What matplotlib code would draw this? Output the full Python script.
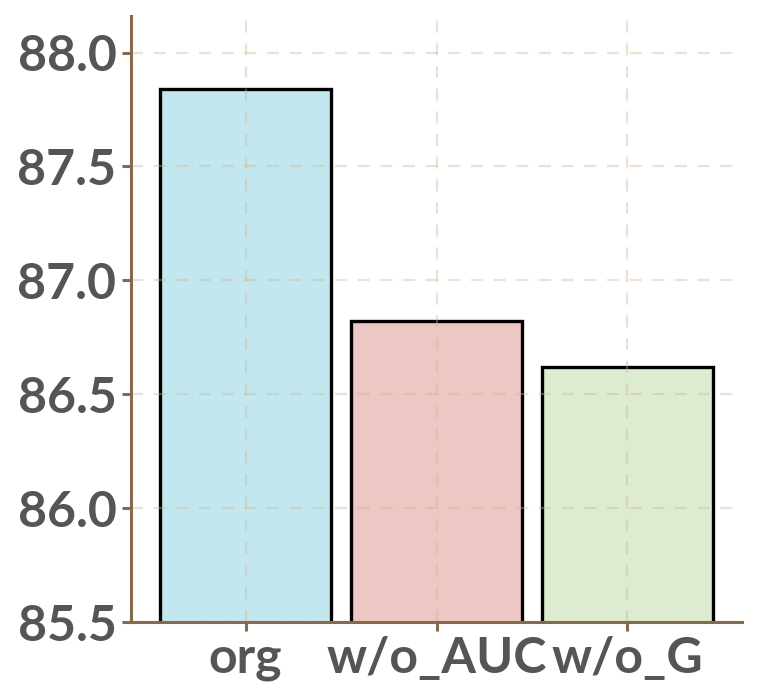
import matplotlib.pyplot as plt

# 数据
labels = ['org', 'w/o_AUC', 'w/o_G']
values = [87.84, 86.82, 86.62]
colors = ['#C3E7EE', '#EDC7C4', '#DDECD0']

plt.rcParams['font.family'] = ['Lato', 'DejaVu Sans']

fig = plt.figure(figsize=(7.59, 7.0), dpi=100)
ax = fig.add_axes([0.1726, 0.1114, 0.805, 0.8656])

ax.bar(labels, values, width=0.9, color=colors, edgecolor='black', linewidth=2.4, zorder=2)

ax.set_ylim(85.5, 88.16)
ax.set_xlim(-0.6, 2.6)
ax.set_yticks([85.5, 86.0, 86.5, 87.0, 87.5, 88.0])
ax.set_yticklabels(['85.5', '86.0', '86.5', '87.0', '87.5', '88.0'])

# 网格画在柱子上面
ax.grid(True, linestyle=(0, (5.4, 4.8)), color='#D2B48C', alpha=0.4, linewidth=1.6, zorder=3)
ax.set_axisbelow(False)

spine_color = '#856A4E'
for side in ['top', 'right']:
    ax.spines[side].set_visible(False)
for side in ['left', 'bottom']:
    ax.spines[side].set_color(spine_color)
    ax.spines[side].set_linewidth(2.2)
    ax.spines[side].set_zorder(4)

ax.tick_params(axis='both', colors=spine_color, width=2.2, length=6.5, labelsize=36)
ax.tick_params(axis='y', pad=4)
for lab in ax.get_xticklabels() + ax.get_yticklabels():
    lab.set_color('#555555')
    lab.set_fontweight('bold')

fig.savefig('out.png', dpi=100)
